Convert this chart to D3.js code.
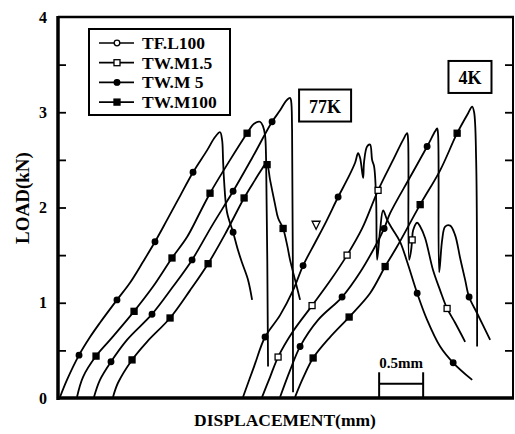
<!DOCTYPE html>
<html>
<head>
<meta charset="utf-8">
<script src="https://cdn.jsdelivr.net/npm/d3@7"></script>
<style>
  body { margin: 0; background: #fff; }
  text { font-family: "Liberation Serif", "Times New Roman", serif; font-weight: bold; fill: #000; }
</style>
</head>
<body>
<script>
// series (legend order)
var seriesNames = ["TF.L100", "TW.M1.5", "TW.M 5", "TW.M100"];
var seriesShapes = ["circle", "square", "circle", "square"];
var legendOpen = [true, true, false, false];
var yTickLabels = [0, 1, 2, 3, 4];
var yMinorTicks = [0.5, 1, 1.5, 2, 2.5, 3, 3.5];

// 77K curves: [displacement mm, load kN]
var a77 = [[0.023,0.01],[0.102,0.19],[0.239,0.45],[0.364,0.64],[0.477,0.79],[0.670,1.03],[0.818,1.21],[0.966,1.43],[1.102,1.64],[1.239,1.87],[1.386,2.12],[1.534,2.37],[1.693,2.60],[1.784,2.74],[1.841,2.79],[1.864,2.71],[1.875,2.50],[1.886,2.29],[1.920,1.95],[1.989,1.74],[2.045,1.55],[2.091,1.42],[2.159,1.24],[2.205,1.03]];
var a77m = [[0.239,0.45],[0.670,1.03],[1.102,1.64],[1.534,2.37],[1.989,1.74]];
var b77 = [[0.216,0.01],[0.284,0.22],[0.432,0.44],[0.591,0.61],[0.864,0.91],[1.080,1.17],[1.295,1.47],[1.466,1.69],[1.614,1.95],[1.727,2.15],[1.955,2.50],[2.148,2.78],[2.227,2.88],[2.295,2.90],[2.330,2.85],[2.352,2.76],[2.364,2.50],[2.386,0.33]];
var b77m = [[0.432,0.44],[0.864,0.91],[1.295,1.47],[1.727,2.15],[2.148,2.78]];
var c77 = [[0.409,0.01],[0.477,0.19],[0.602,0.38],[0.784,0.61],[1.068,0.88],[1.307,1.17],[1.523,1.45],[1.750,1.81],[1.989,2.17],[2.205,2.52],[2.432,2.90],[2.523,3.02],[2.591,3.12],[2.636,3.15],[2.648,3.12],[2.659,2.81],[2.670,0.06]];
var c77m = [[0.602,0.38],[1.068,0.88],[1.523,1.45],[1.989,2.17],[2.432,2.90]];
var d77 = [[0.625,0.01],[0.682,0.16],[0.841,0.40],[1.011,0.59],[1.273,0.84],[1.500,1.13],[1.705,1.41],[1.898,1.72],[2.114,2.10],[2.239,2.29],[2.307,2.39],[2.352,2.45],[2.375,2.45],[2.409,2.29],[2.466,2.03],[2.500,1.89],[2.557,1.78],[2.602,1.61],[2.636,1.45],[2.693,1.24],[2.750,1.03]];
var d77m = [[0.841,0.40],[1.273,0.84],[1.705,1.41],[2.114,2.10],[2.375,2.45],[2.557,1.78]];

// 4K curves
var e4 = [[2.102,0.01],[2.227,0.33],[2.352,0.64],[2.523,0.87],[2.670,1.13],[2.784,1.39],[2.920,1.63],[3.045,1.85],[3.182,2.11],[3.295,2.31],[3.375,2.47],[3.409,2.57],[3.432,2.52],[3.466,2.31],[3.477,2.48],[3.511,2.64],[3.545,2.66],[3.568,2.50],[3.591,2.43],[3.614,2.08],[3.625,1.45],[3.659,1.76],[3.693,1.97],[3.739,1.87],[3.795,1.78],[3.886,1.64],[3.966,1.43],[4.080,1.10],[4.193,0.82],[4.341,0.54],[4.489,0.37],[4.705,0.19]];
var e4m = [[2.352,0.64],[2.784,1.39],[3.182,2.11],[4.080,1.10],[4.489,0.37]];
var f4 = [[2.318,0.01],[2.409,0.22],[2.500,0.43],[2.670,0.70],[2.886,0.97],[3.091,1.23],[3.284,1.50],[3.455,1.78],[3.636,2.18],[3.807,2.50],[3.920,2.71],[3.966,2.78],[3.977,2.71],[3.989,1.45],[4.011,1.55],[4.023,1.66],[4.034,1.76],[4.080,1.84],[4.114,1.80],[4.170,1.68],[4.261,1.34],[4.341,1.13],[4.420,0.94],[4.511,0.79],[4.625,0.59]];
var f4m = [[2.500,0.43],[2.886,0.97],[3.284,1.50],[3.636,2.18],[4.023,1.66],[4.420,0.94]];
var g4 = [[2.523,0.01],[2.636,0.29],[2.750,0.54],[2.955,0.82],[3.227,1.06],[3.432,1.32],[3.625,1.63],[3.705,1.78],[3.773,1.94],[4.000,2.32],[4.193,2.64],[4.284,2.80],[4.307,2.83],[4.318,2.76],[4.330,1.32],[4.364,1.66],[4.398,1.80],[4.455,1.81],[4.511,1.71],[4.568,1.47],[4.625,1.24],[4.670,1.06],[4.761,0.89],[4.909,0.61]];
var g4m = [[2.750,0.54],[3.227,1.06],[3.705,1.78],[4.193,2.64],[4.670,1.06]];
var h4 = [[2.693,0.01],[2.784,0.21],[2.898,0.42],[3.091,0.64],[3.307,0.85],[3.545,1.10],[3.716,1.38],[3.852,1.59],[4.114,2.03],[4.341,2.39],[4.534,2.78],[4.659,2.99],[4.705,3.06],[4.727,3.00],[4.750,2.50],[4.761,0.54]];
var h4m = [[2.898,0.42],[3.307,0.85],[3.716,1.38],[4.114,2.03],[4.534,2.78]];

// open triangle mark on the 4K TF.L100 curve
var triMark = [[2.932, 1.74]];
// temperature labels [x mm, y kN]
var tempLabels = [{text: "77K", at: [3.034, 3.06]}, {text: "4K", at: [4.68, 3.36]}];
// scale bar
var scaleBar = {from: 3.648, to: 4.148, y: 0.15, label: "0.5mm"};

var W = 515, H = 434;
var x = d3.scaleLinear().domain([0, 5.18]).range([58, 514]);
var y = d3.scaleLinear().domain([0, 4]).range([398, 17]);

var curves = [
    {pts: a77, marks: a77m, shape: "circle", open: false},
    {pts: b77, marks: b77m, shape: "square", open: false},
    {pts: c77, marks: c77m, shape: "circle", open: false},
    {pts: d77, marks: d77m, shape: "square", open: false},
    {pts: e4, marks: e4m, shape: "circle", open: false},
    {pts: f4, marks: f4m, shape: "square", open: true},
    {pts: g4, marks: g4m, shape: "circle", open: false},
    {pts: h4, marks: h4m, shape: "square", open: false}
];

var svg = d3.select("body").append("svg")
    .attr("width", W)
    .attr("height", H);

var line = d3.line()
    .x(d => x(d[0]))
    .y(d => y(d[1]))
    .curve(d3.curveCatmullRom.alpha(0.5));

function drawMarker(g, shape, open, px, py) {
    if (shape == "circle") {
        g.append("circle")
            .attr("cx", px).attr("cy", py).attr("r", 2.8)
            .attr("fill", open ? "#fff" : "#000")
            .attr("stroke", "#000").attr("stroke-width", 1.3);
    } else {
        g.append("rect")
            .attr("x", px - 3).attr("y", py - 3)
            .attr("width", 6).attr("height", 6)
            .attr("fill", open ? "#fff" : "#000")
            .attr("stroke", "#000").attr("stroke-width", 1.3);
    }
}

var plot = svg.append("g");
curves.forEach(function(c) {
    plot.append("path")
        .datum(c.pts)
        .attr("d", line)
        .attr("fill", "none")
        .attr("stroke", "#000")
        .attr("stroke-width", 1.8)
        .attr("stroke-linejoin", "round");
});
curves.forEach(function(c) {
    c.marks.forEach(function(m) {
        drawMarker(plot, c.shape, c.open, x(m[0]), y(m[1]));
    });
});

// little open triangle
triMark.forEach(function(t) {
    var tx = x(t[0]), ty = y(t[1]) - 7;
    plot.append("path")
        .attr("d", "M" + (tx - 4) + "," + (ty - 4) + "L" + (tx + 4) + "," + (ty - 4) + "L" + tx + "," + (ty + 4) + "Z")
        .attr("fill", "#fff").attr("stroke", "#000").attr("stroke-width", 1.3);
});

// frame
var frame = svg.append("g").attr("stroke", "#000").attr("fill", "none");
frame.append("line").attr("x1", 58).attr("x2", 514).attr("y1", 17).attr("y2", 17).attr("stroke-width", 2.5);
frame.append("line").attr("x1", 513).attr("x2", 513).attr("y1", 17).attr("y2", 398).attr("stroke-width", 2);
frame.append("line").attr("x1", 58).attr("x2", 514).attr("y1", 398).attr("y2", 398).attr("stroke-width", 3.5);
frame.append("line").attr("x1", 58).attr("x2", 58).attr("y1", 16).attr("y2", 400).attr("stroke-width", 3.5);

// inward ticks on left and right
var leftTicks = svg.append("g")
    .attr("transform", "translate(58,0)")
    .call(d3.axisRight(y).tickValues(yMinorTicks).tickSize(8).tickFormat(""));
var rightTicks = svg.append("g")
    .attr("transform", "translate(513,0)")
    .call(d3.axisLeft(y).tickValues(yMinorTicks).tickSize(8).tickFormat(""));
[leftTicks, rightTicks].forEach(function(g) {
    g.select(".domain").remove();
    g.selectAll(".tick line").attr("stroke-width", 1.8);
});

var yLabels = svg.append("g")
    .attr("transform", "translate(58,0)")
    .call(d3.axisLeft(y).tickValues(yTickLabels).tickSize(0).tickPadding(11).tickFormat(d3.format("d")));
yLabels.select(".domain").remove();
yLabels.selectAll("text")
    .attr("font-size", 16)
    .attr("font-family", "Liberation Serif, serif")
    .attr("font-weight", "bold");

// axis titles
svg.append("text")
    .attr("transform", "translate(29,198) rotate(-90)")
    .attr("text-anchor", "middle")
    .attr("font-size", 19)
    .text("LOAD(kN)");
svg.append("text")
    .attr("x", 285)
    .attr("y", 426)
    .attr("text-anchor", "middle")
    .attr("font-size", 17.5)
    .text("DISPLACEMENT(mm)");

// temperature boxes
tempLabels.forEach(function(t) {
    var g = svg.append("g");
    var txt = g.append("text")
        .attr("x", x(t.at[0]))
        .attr("y", y(t.at[1]) + 6)
        .attr("text-anchor", "middle")
        .attr("font-size", 18)
        .text(t.text);
    var bb = txt.node().getBBox();
    g.insert("rect", "text")
        .attr("x", bb.x - 10).attr("y", bb.y - 7)
        .attr("width", bb.width + 20).attr("height", bb.height + 12)
        .attr("fill", "#fff").attr("stroke", "#000").attr("stroke-width", 2);
});

// scale bar
var sb = svg.append("g").attr("stroke", "#000").attr("stroke-width", 2);
sb.append("line").attr("x1", x(scaleBar.from)).attr("x2", x(scaleBar.to))
    .attr("y1", y(scaleBar.y)).attr("y2", y(scaleBar.y));
[scaleBar.from, scaleBar.to].forEach(function(v) {
    sb.append("line").attr("x1", x(v)).attr("x2", x(v))
        .attr("y1", y(0)).attr("y2", y(0.27));
});
svg.append("text")
    .attr("x", x((scaleBar.from + scaleBar.to) / 2))
    .attr("y", y(0.31))
    .attr("text-anchor", "middle")
    .attr("font-size", 15)
    .text(scaleBar.label);

// legend
var legend = svg.append("g");
legend.append("rect")
    .attr("x", 89).attr("y", 29).attr("width", 141).attr("height", 86)
    .attr("fill", "#fff").attr("stroke", "#000").attr("stroke-width", 2);
seriesNames.forEach(function(name, i) {
    var ly = 43 + i * 19.7;
    legend.append("line")
        .attr("x1", 99).attr("x2", 134).attr("y1", ly).attr("y2", ly)
        .attr("stroke", "#000").attr("stroke-width", 1.7);
    drawMarker(legend, seriesShapes[i], legendOpen[i], 117, ly);
    legend.append("text")
        .attr("x", 142).attr("y", ly + 6)
        .attr("font-size", 17.5)
        .text(name);
});
</script>
</body>
</html>
